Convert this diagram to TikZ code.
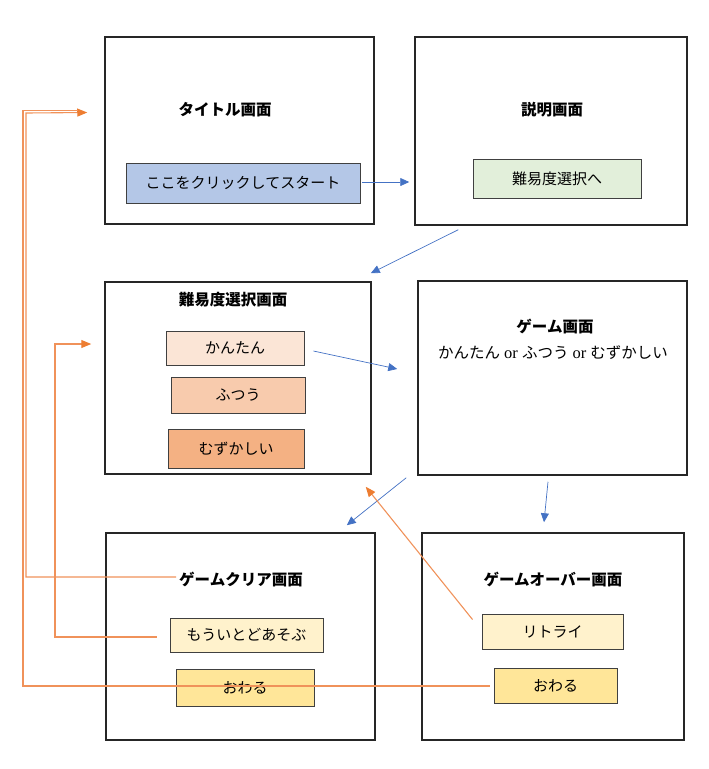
\documentclass[tikz,border=0pt]{standalone}
\usepackage{fontspec}
\setmainfont{Liberation Serif}
\newfontfamily\jp{Noto Sans CJK JP}
\usetikzlibrary{arrows.meta,calc}
\definecolor{bluearrow}{HTML}{4472C4}
\definecolor{orangeline}{HTML}{F0925A}
\definecolor{orangehead}{HTML}{ED7D31}
\definecolor{cStart}{HTML}{B4C7E7}
\definecolor{cNext}{HTML}{E2EFDA}
\definecolor{cEasy}{HTML}{FBE5D6}
\definecolor{cNormal}{HTML}{F8CBAD}
\definecolor{cHard}{HTML}{F4B183}
\definecolor{cLight}{HTML}{FFF2CC}
\definecolor{cGold}{HTML}{FFE699}
\begin{document}
\begin{tikzpicture}[x=1pt,y=-1pt,
  screenbox/.style={draw=black!85, line width=1.5pt, inner sep=0pt, anchor=center},
  button/.style={draw=black!75, line width=0.9pt, inner sep=0pt, anchor=center, font=\jp\fontsize{15}{17}\selectfont},
  titletext/.style={font=\jp\bfseries\fontsize{15.5}{17}\selectfont, inner sep=1pt},
  bluearr/.style={draw=bluearrow, line width=0.7pt, -{Triangle[length=9pt,width=8pt]}},
  orangearr/.style={draw=orangeline, line width=1.1pt, -{Triangle[length=10pt,width=8pt,fill=orangehead,color=orangehead]}},
  orangeln/.style={draw=orangeline, line width=1.1pt}]
\path[use as bounding box] (0,0) rectangle (709,769);
% screens
\node[screenbox, minimum width=269pt, minimum height=187pt] (title) at (239.5,130.5) {};
\node[screenbox, minimum width=272pt, minimum height=188pt] (expl) at (551,131) {};
\node[screenbox, minimum width=266pt, minimum height=192pt] (level) at (238,378) {};
\node[screenbox, minimum width=269pt, minimum height=194pt] (game) at (552.5,378) {};
\node[screenbox, minimum width=269pt, minimum height=207pt] (clear) at (240.5,636.5) {};
\node[screenbox, minimum width=262pt, minimum height=207pt] (over) at (553,636.5) {};
% titles
\node[titletext] (titleT) at (225,110) {タイトル画面};
\node[titletext] (explT) at (552,110) {説明画面};
\node[titletext] (levelT) at (233,300) {難易度選択画面};
\node[titletext] (gameT) at (555,327) {ゲーム画面};
\node[inner sep=1pt, font=\fontsize{16.5}{18}\selectfont] (gameS) at (553,353) {{\jp\fontsize{15.5}{17}\selectfont かんたん} or {\jp\fontsize{15.5}{17}\selectfont ふつう} or {\jp\fontsize{15.5}{17}\selectfont むずかしい}};
\node[titletext] (clearT) at (241,580) {ゲームクリア画面};
\node[titletext] (overT) at (553,580) {ゲームオーバー画面};
% buttons
\node[button, fill=cStart, minimum width=234pt, minimum height=40pt] (start) at (243,183) {ここをクリックしてスタート};
\node[button, fill=cNext, minimum width=168pt, minimum height=39pt] (toLevel) at (557,178.5) {難易度選択へ};
\node[button, fill=cEasy, minimum width=138pt, minimum height=34pt] (easy) at (235,348) {かんたん};
\node[button, fill=cNormal, minimum width=134pt, minimum height=36pt] (normal) at (238,395) {ふつう};
\node[button, fill=cHard, minimum width=136pt, minimum height=39pt] (hard) at (236,448.5) {むずかしい};
\node[button, fill=cLight, minimum width=153pt, minimum height=34pt] (again) at (246.5,635) {もういとどあそぶ};
\node[button, fill=cGold, minimum width=138pt, minimum height=37pt] (end1) at (245,687.5) {おわる};
\node[button, fill=cLight, minimum width=141pt, minimum height=35pt] (retry) at (552.5,631.5) {リトライ};
\node[button, fill=cGold, minimum width=123pt, minimum height=35pt] (end2) at (555.5,685.5) {おわる};
% blue connectors
\draw[bluearr] ($(start.east)+(2,-1)$) -- ($(expl.west)+(-5,51)$);
\draw[bluearr] ($(expl.south west)+(44,4)$) -- ($(level.north east)+(-1,-8)$);
\draw[bluearr] ($(easy.east)+(9,3)$) -- ($(game.west)+(-20,-9)$);
\draw[bluearr] ($(game.south west)+(-11,2)$) -- ($(clear.north east)+(-29,-7)$);
\draw[bluearr] ($(game.south)+(-4.5,6)$) -- ($(over.north)+(-9,-10)$);
% orange connectors
\draw[orangearr] ($(retry.north west)+(-9,6)$) -- ($(level.south east)+(-6,12)$);
\coordinate (c1) at ($(clearT.west)+(-2,-3)$);
\coordinate (t1) at ($(title.west)+(-17,-18)$);
\draw[orangearr] (c1) -| (26,113) -- (t1);
\coordinate (e2) at ($(end2.west)+(-4,0.5)$);
\draw[orangeln] (e2) -| (23,110.5) -- (78,110.5);
\coordinate (a1) at ($(again.west)+(-13,2)$);
\coordinate (l1) at ($(level.west)+(-13,-34)$);
\draw[orangearr] (a1) -| (55,344) -- (l1);
\end{tikzpicture}
\end{document}
